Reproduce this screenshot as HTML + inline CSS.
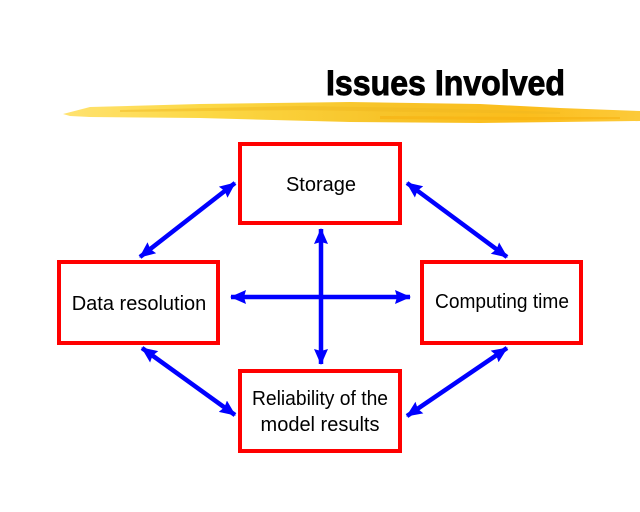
<!DOCTYPE html>
<html><head><meta charset="utf-8"><style>
html,body{margin:0;padding:0;background:#fff;}
svg{display:block;}
</style></head><body>
<svg width="640" height="512" viewBox="0 0 640 512" xmlns="http://www.w3.org/2000/svg">
<defs>
<linearGradient id="br" x1="0" y1="0" x2="1" y2="0">
<stop offset="0" stop-color="#ffe270"/>
<stop offset="0.25" stop-color="#fcd844"/>
<stop offset="0.55" stop-color="#f7c42a"/>
<stop offset="0.8" stop-color="#fbbd1c"/>
<stop offset="1" stop-color="#fcca3a"/>
</linearGradient>
<marker id="me" markerUnits="userSpaceOnUse" markerWidth="18" markerHeight="16" refX="15" refY="7" orient="auto">
<path d="M0,0 L16,7 L0,14 L2,7 z" fill="#0000ff"/>
</marker>
<marker id="ms" markerUnits="userSpaceOnUse" markerWidth="18" markerHeight="16" refX="1" refY="7" orient="auto">
<path d="M16,0 L0,7 L16,14 L14,7 z" fill="#0000ff"/>
</marker>
</defs>

<!-- brush stroke -->
<polygon points="63,114 90,107 200,104 350,102 480,104 560,108 640,111 640,121 560,122 480,123 350,122 200,118 90,117 70,116" fill="url(#br)"/>
<polygon points="120,110 300,106 420,108 560,112 560,114 420,112 300,110 120,112" fill="#f0b820" opacity="0.5"/>
<polygon points="380,116 520,117 620,117 620,119 520,120 380,119" fill="#f6b010" opacity="0.6"/>

<!-- title -->
<text x="326" y="95" font-family="Liberation Sans, Arial, sans-serif" font-weight="bold" font-size="35" textLength="239" lengthAdjust="spacingAndGlyphs" fill="#000" stroke="#000" stroke-width="0.9">Issues Involved</text>

<!-- boxes -->
<g fill="#fff" stroke="#ff0000" stroke-width="4">
<rect x="240" y="144" width="160" height="79"/>
<rect x="59" y="262" width="159" height="81"/>
<rect x="422" y="262" width="159" height="81"/>
<rect x="240" y="371" width="160" height="80"/>
</g>

<!-- labels -->
<g font-family="Liberation Sans, Arial, sans-serif" font-size="20" fill="#000" text-anchor="middle">
<text x="321" y="191">Storage</text>
<text x="139" y="310">Data resolution</text>
<text x="502" y="308" textLength="134" lengthAdjust="spacingAndGlyphs">Computing time</text>
<text x="320" y="405" textLength="136" lengthAdjust="spacingAndGlyphs">Reliability of the</text>
<text x="320" y="431">model results</text>
</g>

<!-- arrows -->
<g stroke="#0000ff" stroke-width="4.5" fill="none" marker-start="url(#ms)" marker-end="url(#me)">
<line x1="140" y1="257" x2="235" y2="183"/>
<line x1="407" y1="183" x2="507" y2="257"/>
<line x1="142" y1="348" x2="235" y2="415"/>
<line x1="507" y1="348" x2="407" y2="416"/>
<line x1="231" y1="297" x2="410" y2="297"/>
<line x1="321" y1="229" x2="321" y2="364"/>
</g>
</svg>
</body></html>
